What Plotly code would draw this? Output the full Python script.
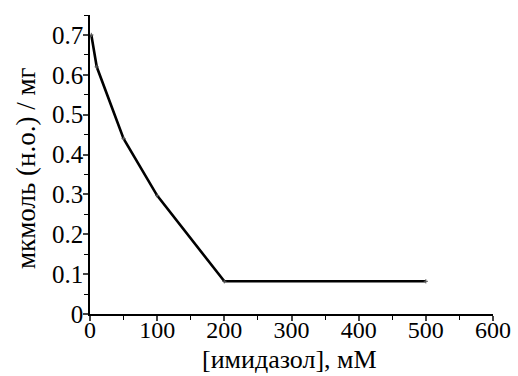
import plotly.graph_objects as go

imidazole_mM = [2, 10, 50, 100, 200, 500]
capacity = [0.70, 0.62, 0.44, 0.297, 0.082, 0.082]

x_ticks = [0, 100, 200, 300, 400, 500, 600]
y_ticks = [0, 0.1, 0.2, 0.3, 0.4, 0.5, 0.6, 0.7]
y_tick_text = ["0", "0.1", "0.2", "0.3", "0.4", "0.5", "0.6", "0.7"]
x_title = "[имидазол], мМ"
y_title = "мкмоль (н.о.) / мг"

font_family = "Liberation Serif"

fig = go.Figure()
fig.add_trace(go.Scatter(
    x=imidazole_mM, y=capacity, mode="lines+markers",
    line=dict(color="black", width=2.6),
    marker=dict(size=3, color="black", symbol="cross-thin", line=dict(width=1, color="#555")),
    showlegend=False,
))

fig.update_layout(
    width=518, height=376,
    margin=dict(l=90, r=25, t=15, b=62),
    paper_bgcolor="white", plot_bgcolor="white",
    font=dict(family=font_family, color="black", size=24),
)
fig.update_xaxes(
    range=[0, 600], tickvals=x_ticks, ticks="outside", ticklen=5, tickwidth=1.5,
    showline=True, linecolor="black", linewidth=1.5, showgrid=False, zeroline=False,
    minor=dict(ticks="outside", dtick=50, ticklen=4, tickwidth=1.2, tickcolor="black"),
    tickfont=dict(size=24, family=font_family, color="black"),
    automargin=False, ticklabelstandoff=-12,
)
fig.update_yaxes(
    range=[0, 0.75], tickvals=y_ticks, ticktext=y_tick_text, ticks="outside", ticklen=5, tickwidth=1.5,
    showline=True, linecolor="black", linewidth=1.5, showgrid=False, zeroline=False,
    minor=dict(ticks="outside", dtick=0.05, ticklen=4, tickwidth=1.2, tickcolor="black"),
    tickfont=dict(size=25, family=font_family, color="black"),
    automargin=False, ticklabelstandoff=-5,
)
fig.add_annotation(
    text=x_title, xref="paper", yref="paper", x=0.496, y=-0.206,
    xanchor="center", yanchor="bottom", showarrow=False,
    font=dict(size=26, family=font_family, color="black"),
)
fig.add_annotation(
    text=y_title, xref="paper", yref="paper", x=-0.159, y=0.488,
    xanchor="center", yanchor="middle", showarrow=False, textangle=-90,
    font=dict(size=27, family=font_family, color="black"),
)

fig.write_html("out.html")
